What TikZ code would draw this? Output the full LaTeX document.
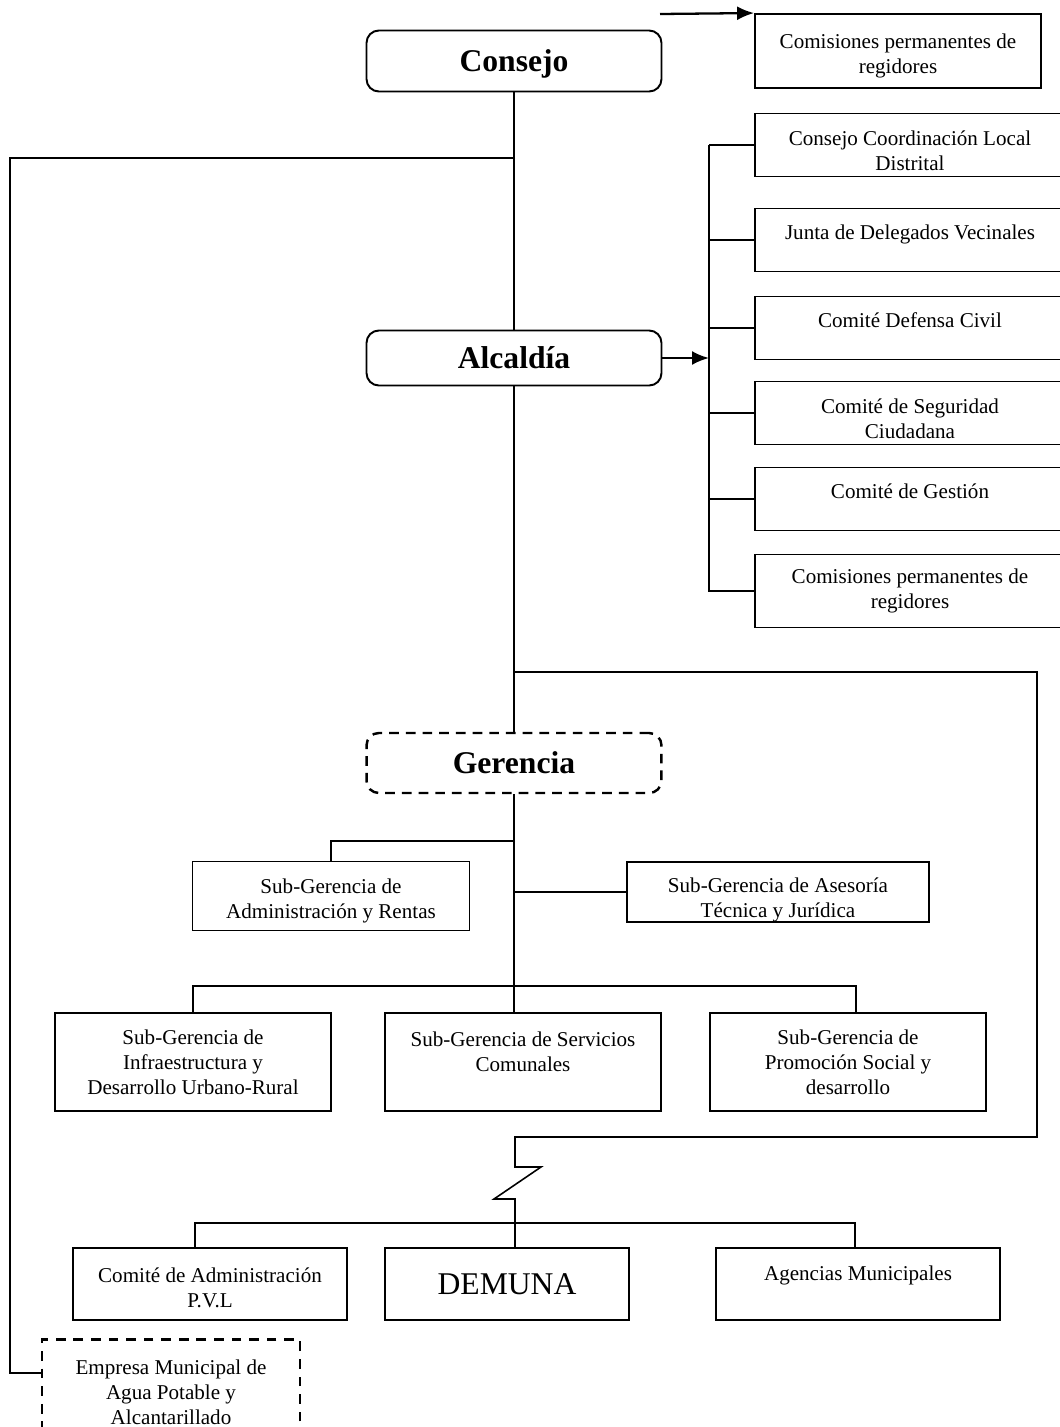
\documentclass[tikz,border=0pt]{standalone}
\usepackage{fontspec}
\setmainfont{Liberation Serif}
\usetikzlibrary{arrows.meta, calc}
\tikzstyle{head} = [rectangle, rounded corners=7pt, minimum width=5.9cm, minimum height=1.22cm, text height=16pt, text depth=4pt, text centered, draw=black, line width=1.1pt, font=\fontsize{18}{20}\selectfont\bfseries]
\tikzstyle{unit} = [rectangle, align=center, draw=black, line width=1.1pt, inner sep=0pt, font=\fontsize{12}{14.2}\selectfont]
\tikzstyle{side_unit} = [unit, minimum width=6.22cm, minimum height=1.26cm]
\tikzstyle{sub_unit} = [unit, minimum width=5.52cm, minimum height=1.96cm]
\tikzstyle{low_unit} = [unit, minimum height=1.44cm]
\tikzstyle{raised} = [text depth=9pt]
\tikzstyle{link} = [line width=0.9pt]
\tikzstyle{arrow} = [line width=1.3pt, ->, >={Latex[length=3.4mm, width=2.8mm]}]

\begin{document}
\begin{tikzpicture}[x=0.02cm, y=-0.02cm]
    \useasboundingbox (0,0) rectangle (1060,1427);
    \clip (0,0) rectangle (1060,1427);

    \node (consejo)  [head] at (514,61) {Consejo};
    \node (comtop)   [unit, minimum width=5.72cm, minimum height=1.48cm, text height=28pt] at (898,51) {Comisiones permanentes de\\regidores};
    \node (alcaldia) [head, minimum height=1.1cm] at (514,358) {Alcaldía};
    \node (gerencia) [head, dashed, dash pattern=on 5.5pt off 4pt, line width=1.4pt, minimum height=1.2cm] at (514,763) {Gerencia};

    \node (r1) [side_unit, text height=29pt] at (910,145) {Consejo Coordinación Local\\Distrital};
    \node (r2) [side_unit, raised] at (910,240) {Junta de Delegados Vecinales};
    \node (r3) [side_unit, raised] at (910,328) {Comité Defensa Civil};
    \node (r4) [side_unit, text height=29pt] at (910,413) {Comité de Seguridad\\Ciudadana};
    \node (r5) [side_unit, raised] at (910,499) {Comité de Gestión};
    \node (r6) [side_unit, minimum height=1.46cm] at (910,591) {Comisiones permanentes de\\regidores};

    \node (sgadmin)     [unit, minimum width=5.54cm, minimum height=1.38cm, text height=28pt] at (331,896) {Sub-Gerencia de\\Administración y Rentas};
    \node (sgasesoria)  [unit, minimum width=6.04cm, minimum height=1.2cm, text height=32pt] at (778,892) {Sub-Gerencia de Asesoría\\Técnica y Jurídica};
    \node (sginfra)     [sub_unit] at (193,1062) {Sub-Gerencia de\\Infraestructura y\\Desarrollo Urbano-Rural};
    \node (sgservicios) [sub_unit, text depth=12pt] at (523,1062) {Sub-Gerencia de Servicios\\Comunales};
    \node (sgpromocion) [sub_unit] at (848,1062) {Sub-Gerencia de\\Promoción Social y\\desarrollo};

    \node (pvl)      [low_unit, minimum width=5.48cm, text height=27pt] at (210,1284) {Comité de Administración\\P.V.L};
    \node (demuna)   [low_unit, minimum width=4.88cm, font=\fontsize{18}{20}\selectfont] at (507,1284) {DEMUNA};
    \node (agencias) [low_unit, minimum width=5.68cm, text depth=12pt] at (858,1284) {Agencias Municipales};
    \node (empresa)  [unit, dashed, dash pattern=on 5.5pt off 4.5pt, line width=1.4pt, minimum width=5.16cm, minimum height=2.1cm] at (171,1392) {Empresa Municipal de\\Agua Potable y\\Alcantarillado};

    \coordinate (arrstart) at (660,14);
    \coordinate (lbranch)  at (515,158);
    \coordinate (leftrail) at (10,1373);
    \coordinate (rail)     at (709,145);
    \coordinate (gbranch)  at (515,672);
    \coordinate (zz)       at (1037,1137);
    \coordinate (abranch)  at (515,841);
    \coordinate (sbar)     at (515,986);
    \coordinate (bbar)     at (515,1223);

\draw [arrow] (arrstart) -- (comtop.north west);
\draw [link] (consejo.south) -- (alcaldia.north);
\draw [link] (lbranch) -| (leftrail) -- (empresa.west |- leftrail);

\draw [arrow] (alcaldia.east) -- (alcaldia.east -| rail);
\draw [link] (rail) |- (r6.west);
\foreach \n in {1,...,5}
    \draw [link] (r\n.west) -- (r\n.west -| rail);

\draw [link] (alcaldia.south) -- (gerencia.north);
\draw [link] (gbranch) -| (zz) -- (zz -| gbranch)
                -- ++(0,30) -- ++(26,0) -- ++(-47,32) -- ++(21,0)
                -- (demuna.north -| gbranch);

\draw [link] (gerencia.south) -- (gerencia.south |- sgservicios.north);
\draw [link] (abranch) -| (sgadmin.north);
\draw [link] (sgasesoria.west) -- (sgasesoria.west -| gerencia.south);
\draw [link] (sginfra.north) |- (sbar) -| ([xshift=0.16cm]sgpromocion.north);

\draw [link] ([xshift=-0.3cm]pvl.north) |- (bbar) -| ([xshift=-0.06cm]agencias.north);

\end{tikzpicture}
\end{document}
